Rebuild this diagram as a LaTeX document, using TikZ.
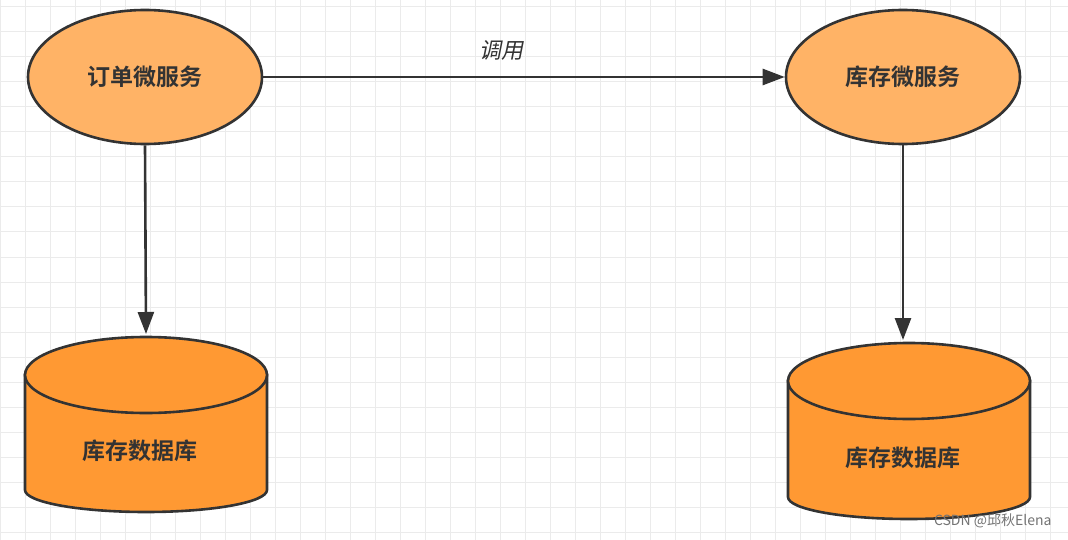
\documentclass[tikz,border=0pt]{standalone}
\usepackage{fontspec}
\newfontfamily\cjk{Noto Sans CJK SC}
\newfontfamily\cjkb{Noto Sans CJK SC Bold}
\newfontfamily\cjksl[FakeSlant=0.2]{Noto Sans CJK SC}
\usetikzlibrary{arrows.meta}
\definecolor{svc}{HTML}{FFB366}
\definecolor{dbc}{HTML}{FF9933}
\definecolor{ln}{HTML}{333333}
\tikzset{
 svcnode/.style={ellipse,draw=ln,line width=2.6pt,fill=svc,minimum width=234pt,minimum height=134pt,font=\cjkb\fontsize{23}{27}\selectfont,text=ln},
 conn/.style={draw=ln,line width=2.6pt,-{Triangle[length=22pt,width=16pt]}},
 dbtxt/.style={font=\cjkb\fontsize{23}{27}\selectfont,text=ln},
 cyl/.style={draw=ln,line width=2.6pt,fill=dbc}
}
\usetikzlibrary{shapes.geometric}
\begin{document}
\begin{tikzpicture}[x=1pt,y=-1pt]
\useasboundingbox (0,0) rectangle (1068,540);
\fill[white] (0,0) rectangle (1068,540);
\foreach \x in {0,25,...,1075} \draw[black!8,line width=1pt] (\x,0) -- (\x,540);
\foreach \y in {7,32,...,540} \draw[black!8,line width=1pt] (0,\y) -- (1068,\y);
% services
\node[svcnode] (a) at (145,77) {订单微服务};
\node[svcnode] (b) at (903,77) {库存微服务};
% cylinders
\foreach \cx/\ty/\by in {146/375/490, 909/381/497}{
 \path[cyl] (\cx-121,\ty) -- (\cx-121,\by) arc[start angle=180,end angle=360,x radius=121,y radius=-22] -- (\cx+121,\ty) -- cycle;
 \path[cyl] (\cx,\ty) ellipse[x radius=121,y radius=38];
}
\coordinate (da) at (146,334);
\coordinate (db) at (903,340);
\node[dbtxt] (ta) at (140,451) {库存数据库};
\node[dbtxt] (tb) at (903,458) {库存数据库};
\draw[conn] (a.east) -- node[above=12pt,font=\cjksl\fontsize{22}{26}\selectfont,text=ln,xshift=-23pt] (l) {调用} (b.west);
\draw[conn] (a.south) -- (da);
\draw[conn] (b.south) -- (db);
\node[font=\cjk\fontsize{14}{16}\selectfont,text=black!55,anchor=east] (w) at (1055,521) {CSDN @邱秋Elena};
\end{tikzpicture}
\end{document}
